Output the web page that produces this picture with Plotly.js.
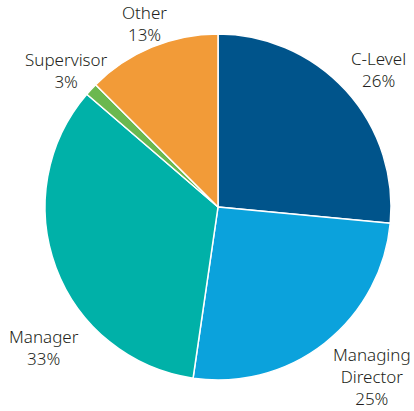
<!DOCTYPE html>
<html>
<head>
<meta charset="utf-8">
<script src="https://cdn.plot.ly/plotly-3.0.1.min.js"></script>
<style>html,body{margin:0;padding:0;background:#fff;}#chart{width:414px;height:411px;}</style>
</head>
<body>
<div id="chart"></div>
<script>
// Data
const categories = ["C-Level", "Managing<br>Director", "Manager", "Supervisor", "Other"];
const sliceValues = [26.5, 25.8, 34.0, 1.2, 12.5];
const percentLabels = ["26%", "25%", "33%", "3%", "13%"];
const sliceColors = ["#00548b", "#0ba2dc", "#00b1a8", "#6bb84f", "#f29b38"];

// Label placement: block centre in pixels of the 414x411 frame
const labelPos = [[378, 69], [372, 376], [44, 347], [66, 70.5], [144, 23.5]];
const W = 414, H = 411;

const trace = {
  type: "pie",
  labels: categories,
  values: sliceValues,
  sort: false,
  direction: "clockwise",
  rotation: 0,
  textinfo: "none",
  hoverinfo: "label+percent",
  marker: { colors: sliceColors, line: { color: "#ffffff", width: 1.5 } },
  domain: { x: [45 / W, 391 / W], y: [31 / H, 377 / H] },
  showlegend: false
};

const annotations = categories.map((c, i) => ({
  text: c + "<br>" + percentLabels[i],
  xref: "paper", yref: "paper",
  x: labelPos[i][0] / W, y: 1 - labelPos[i][1] / H,
  xanchor: "center", yanchor: "middle",
  showarrow: false,
  align: "center",
  font: { family: "'Noto Sans', 'Open Sans', sans-serif", size: 17, weight: 300, color: "#231f20" }
}));

const layout = {
  width: W, height: H,
  margin: { l: 0, r: 0, t: 0, b: 0 },
  paper_bgcolor: "#ffffff",
  annotations: annotations
};

Plotly.newPlot("chart", [trace], layout, { displayModeBar: false, staticPlot: true });
</script>
</body>
</html>
